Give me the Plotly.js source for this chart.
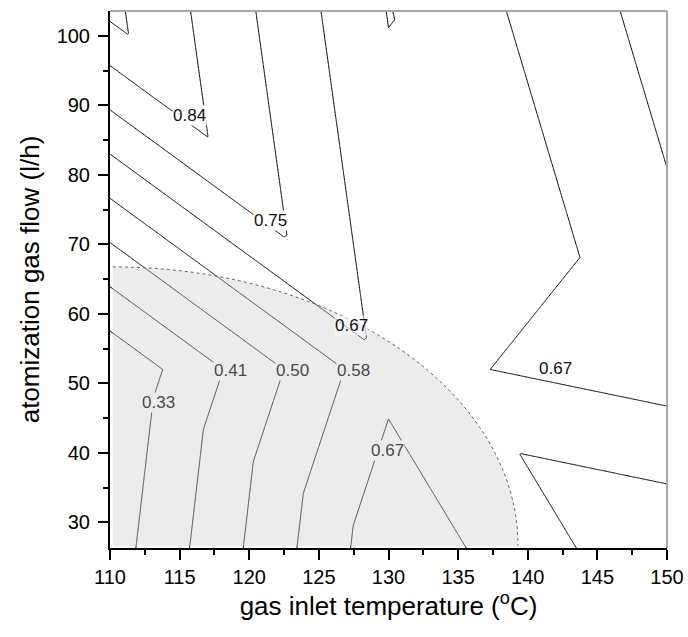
<!DOCTYPE html>
<html>
<head>
<meta charset="utf-8">
<script src="https://cdn.plot.ly/plotly-3.0.1.min.js"></script>
<style>html,body{margin:0;padding:0;background:#fff;}#chart{width:688px;height:637px;}</style>
</head>
<body>
<div id="chart"></div>
<script>
// ---- data ----
// design nodes (3 x 3) and response at each node (rows follow gasFlow)
const temperature = [110, 130, 150];
const gasFlow = [26.3, 52, 103.6];
const responseAt26 = [0.289, 0.730, 0.515];
const responseAt52 = [0.256, 0.647, 0.710];
const responseAt104 = [0.945, 0.582, 0.790];
const contourStart = 0.33;
const contourStep = 0.085;
const xTicks = [110, 115, 120, 125, 130, 135, 140, 145, 150];
const yTicks = [30, 40, 50, 60, 70, 80, 90, 100];
const labelText = ['0.84', '0.75', '0.67', '0.41', '0.50', '0.58', '0.33', '0.67', '0.67'];
const labelTemp = [115.7, 121.5, 127.35, 118.67, 123.1, 127.5, 113.5, 129.9, 141.96];
const labelFlow = [88.5, 73.5, 58.4, 51.9, 51.9, 51.9, 47.2, 40.4, 52.2];
const labelInRegion = [0, 0, 2, 1, 1, 1, 1, 1, 0];
// shaded region: quarter ellipse
const region = {cx: 110.2, cy: 26.6, a: 29.1, b: 40.16};

// ---- build the table the contour trace needs (linear interpolation on the triangulated design) ----
const zNodes = [responseAt26, responseAt52, responseAt104];
function surface(x, y) {
  const i = x <= temperature[1] ? 0 : 1;
  const j = y <= gasFlow[1] ? 0 : 1;
  const u = (x - temperature[i]) / (temperature[i + 1] - temperature[i]);
  const v = (y - gasFlow[j]) / (gasFlow[j + 1] - gasFlow[j]);
  const zBL = zNodes[j][i], zBR = zNodes[j][i + 1], zTL = zNodes[j + 1][i], zTR = zNodes[j + 1][i + 1];
  if (u + v <= 1) return zBL + u * (zBR - zBL) + v * (zTL - zBL);
  return zTR + (1 - u) * (zTL - zTR) + (1 - v) * (zBR - zTR);
}
const N = 80;
const gx = [], gy = [];
for (let c = 0; c < 2; c++) for (let k = 0; k < N; k++) gx.push(temperature[c] + (temperature[c + 1] - temperature[c]) * k / N);
gx.push(temperature[2]);
for (let c = 0; c < 2; c++) for (let k = 0; k < N; k++) gy.push(gasFlow[c] + (gasFlow[c + 1] - gasFlow[c]) * k / N);
gy.push(gasFlow[2]);
const gz = gy.map(y => gx.map(x => surface(x, y)));

const font = 'Liberation Sans, Arial, Helvetica, sans-serif';

const trace = {
  type: 'contour', x: gx, y: gy, z: gz,
  contours: {coloring: 'none', start: contourStart, end: 0.93, size: contourStep, showlabels: false},
  line: {color: '#000', width: 1, smoothing: 0},
  showscale: false, hoverinfo: 'skip'
};

const k = 0.5523;
const R = region;
const fillPath = `M ${R.cx},${R.cy} L ${R.cx},${R.cy + R.b} C ${R.cx + k * R.a},${R.cy + R.b} ${R.cx + R.a},${R.cy + k * R.b} ${R.cx + R.a},${R.cy} Z`;
const curvePath = `M ${R.cx},${R.cy + R.b} C ${R.cx + k * R.a},${R.cy + R.b} ${R.cx + R.a},${R.cy + k * R.b} ${R.cx + R.a},${R.cy}`;

const annotations = labelText.map((t, i) => ({
  x: labelTemp[i], y: labelFlow[i], xref: 'x', yref: 'y', text: t, showarrow: false,
  font: {family: font, size: 17, color: labelInRegion[i] === 1 ? '#4a4a4a' : '#111'},
  bgcolor: labelInRegion[i] === 1 ? '#ececec' : (labelInRegion[i] === 2 ? 'rgba(255,255,255,0.55)' : '#ffffff'),
  borderpad: 0
}));

const layout = {
  width: 688, height: 637,
  margin: {l: 110, r: 21, t: 11, b: 89},
  paper_bgcolor: '#fff', plot_bgcolor: '#fff',
  showlegend: false,
  font: {family: font, color: '#000'},
  xaxis: {
    range: [110, 150], tickvals: xTicks, ticks: 'outside', ticklen: 10, tickwidth: 2, tickcolor: '#000',
    minor: {dtick: 2.5, ticks: 'outside', ticklen: 5, tickwidth: 2, tickcolor: '#000', showgrid: false},
    showline: true, linewidth: 2, linecolor: '#000', showgrid: false, zeroline: false,
    tickfont: {family: font, size: 20, color: '#000'},
    title: {text: 'gas inlet temperature (<sup>o</sup>C)', font: {family: font, size: 26, color: '#000'}, standoff: 9}
  },
  yaxis: {
    range: [26.3, 103.6], tickvals: yTicks, ticks: 'outside', ticklen: 10, tickwidth: 2, tickcolor: '#000',
    minor: {dtick: 5, ticks: 'outside', ticklen: 5, tickwidth: 2, tickcolor: '#000', showgrid: false},
    showline: true, linewidth: 2, linecolor: '#000', showgrid: false, zeroline: false,
    ticklabelstandoff: 4,
    tickfont: {family: font, size: 20, color: '#000'},
    title: {text: 'atomization gas flow (l/h)', font: {family: font, size: 26, color: '#000'}, standoff: 10}
  },
  shapes: [
    {type: 'path', xref: 'x', yref: 'y', path: fillPath, fillcolor: 'rgba(200,200,200,0.35)', line: {width: 0}, layer: 'above'},
    {type: 'path', xref: 'x', yref: 'y', path: curvePath, fillcolor: 'rgba(0,0,0,0)', line: {color: '#666', width: 1, dash: 'dot'}, layer: 'above'},
    {type: 'line', xref: 'paper', yref: 'paper', x0: 0, x1: 1, y0: 1, y1: 1, line: {color: '#a8a8a8', width: 2}, layer: 'above'},
    {type: 'line', xref: 'paper', yref: 'paper', x0: 1, x1: 1, y0: 0, y1: 1, line: {color: '#a8a8a8', width: 2}, layer: 'above'}
  ],
  annotations: annotations
};

Plotly.newPlot('chart', [trace], layout, {staticPlot: true, displayModeBar: false});
</script>
</body>
</html>
